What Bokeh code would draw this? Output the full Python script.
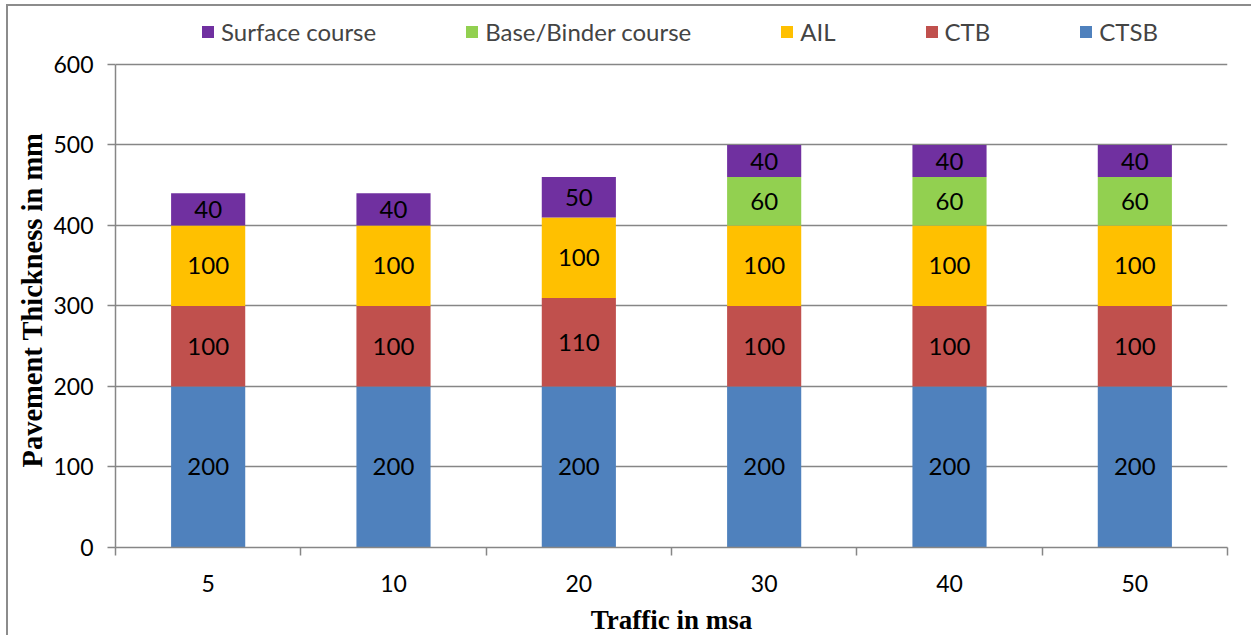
from bokeh.plotting import figure
from bokeh.models import ColumnDataSource, FixedTicker, Legend, LegendItem, Range1d, Title
from bokeh.core.properties import value
from bokeh.embed import file_html
from bokeh.resources import INLINE

categories = ["5", "10", "20", "30", "40", "50"]
ctsb = [200, 200, 200, 200, 200, 200]
ctb = [100, 100, 110, 100, 100, 100]
ail = [100, 100, 100, 100, 100, 100]
base_binder = [0, 0, 0, 60, 60, 60]
surface = [40, 40, 50, 40, 40, 40]
y_ticks = [0, 100, 200, 300, 400, 500, 600]

layers = ["CTSB", "CTB", "AIL", "Base/Binder course", "Surface course"]
colors = ["#4F81BD", "#C0504D", "#FFC000", "#92D050", "#7030A0"]
series = [ctsb, ctb, ail, base_binder, surface]

xs = [i + 0.5 for i in range(len(categories))]
data = {"x": xs}
for name, vals in zip(layers, series):
    data[name] = vals
src = ColumnDataSource(data)

FONT = "Lato"
GRAY = "#868686"

# layout: frame extends above the 600 line to hold the legend
W, H = 1245, 631
B_LEFT, B_RIGHT, B_TOP, B_BOTTOM = 107, 26, 4, 89
AXIS_TOP_PX = 54          # distance from frame top down to the 600 line
frame_h = H - B_TOP - B_BOTTOM
y_max = y_ticks[-1]
y_end = y_max * frame_h / (frame_h - AXIS_TOP_PX)

p = figure(width=W, height=H, output_backend="svg", toolbar_location=None,
           x_range=Range1d(0, len(categories)), y_range=Range1d(0, y_end),
           min_border_left=B_LEFT, min_border_right=B_RIGHT,
           min_border_top=B_TOP, min_border_bottom=B_BOTTOM)
p.outline_line_color = None
p.background_fill_color = "white"
p.styles = {"border-top": "2px solid #8c8c8c", "border-left": "2px solid #8c8c8c",
            "margin-left": "6px", "margin-top": "4px"}

renderers = p.vbar_stack(layers, x="x", width=0.4, color=colors, source=src, line_color=None)

# labels
lx, ly, lt = [], [], []
for i in range(len(categories)):
    bottom = 0
    for vals in series:
        v = vals[i]
        if v > 0:
            lx.append(xs[i]); ly.append(bottom + v / 2); lt.append(str(v))
        bottom += v
p.text(x=lx, y=ly, text=lt, text_align="center", text_baseline="middle",
       text_font=value(FONT), text_font_size="24px", text_color="black")

# axes
p.xgrid.grid_line_color = None
p.ygrid.grid_line_color = GRAY
p.ygrid.grid_line_width = 1.5
p.ygrid.ticker = FixedTicker(ticks=y_ticks)

p.yaxis.ticker = FixedTicker(ticks=y_ticks)
p.yaxis.bounds = (0, y_max)
p.yaxis.axis_line_color = GRAY
p.yaxis.axis_line_width = 1.5
p.yaxis.major_tick_line_color = GRAY
p.yaxis.major_tick_line_width = 1.5
p.yaxis.major_tick_in = 0
p.yaxis.major_tick_out = 8
p.yaxis.minor_tick_line_color = None
p.yaxis.major_label_standoff = 14
p.yaxis.major_label_text_font = FONT
p.yaxis.major_label_text_font_size = "23px"
p.yaxis.major_label_text_color = "black"

ytitle = Title(text="Pavement Thickness in mm", align="left", offset=80,
               text_font="Liberation Serif", text_font_style="bold",
               text_font_size="28.5px", text_color="black", standoff=6)
p.add_layout(ytitle, "left")

p.xaxis.ticker = FixedTicker(ticks=xs, minor_ticks=list(range(len(categories) + 1)))
p.xaxis.major_label_overrides = {x: c for x, c in zip(xs, categories)}
p.xaxis.axis_line_color = GRAY
p.xaxis.axis_line_width = 1.5
p.xaxis.major_tick_line_color = None
p.xaxis.major_tick_in = 0
p.xaxis.major_tick_out = 0
p.xaxis.minor_tick_line_color = GRAY
p.xaxis.minor_tick_line_width = 1.5
p.xaxis.minor_tick_in = 0
p.xaxis.minor_tick_out = 8
p.xaxis.major_label_standoff = 19
p.xaxis.major_label_text_font = FONT
p.xaxis.major_label_text_font_size = "23px"
p.xaxis.major_label_text_color = "black"
p.xaxis.axis_label = "Traffic in msa"
p.xaxis.axis_label_text_font = "Liberation Serif"
p.xaxis.axis_label_text_font_style = "bold"
p.xaxis.axis_label_text_font_size = "27px"
p.xaxis.axis_label_text_color = "black"
p.xaxis.axis_label_standoff = 10

items = [LegendItem(label=layers[k], renderers=[renderers[k]]) for k in [4, 3, 2, 1, 0]]
legend = Legend(items=items, orientation="horizontal", location=(85, frame_h - 37),
                glyph_width=15, glyph_height=15, label_standoff=6, spacing=88,
                label_text_font=FONT, label_text_font_size="24px",
                border_line_color=None, background_fill_alpha=0, padding=0, margin=0)
p.add_layout(legend, "center")

open("out.html", "w").write(file_html(p, INLINE))
